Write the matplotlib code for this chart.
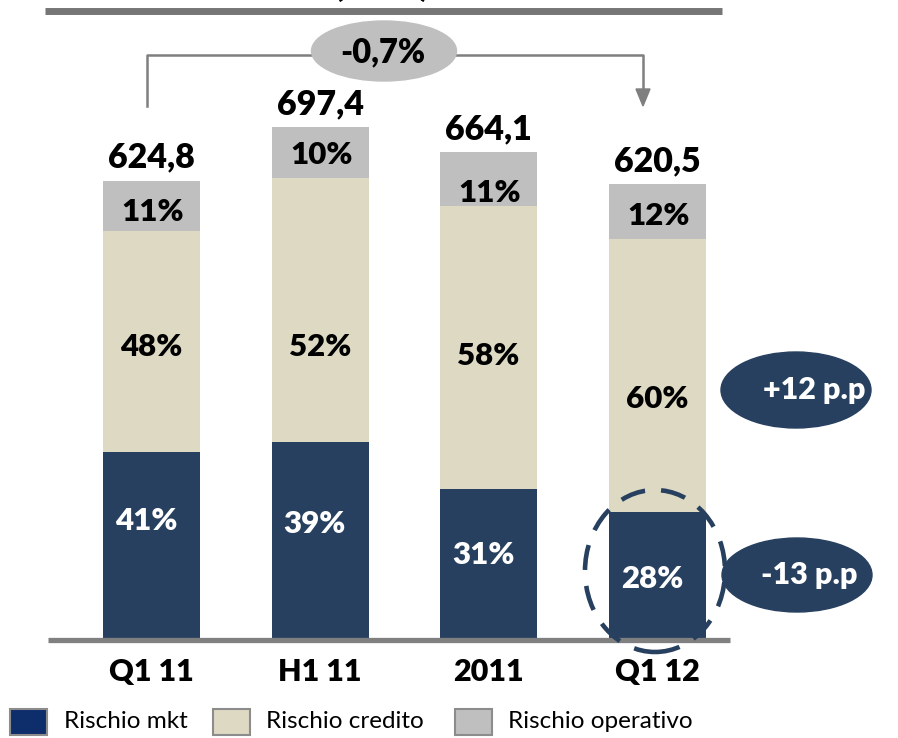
import matplotlib
matplotlib.use("Agg")
import matplotlib.pyplot as plt
from matplotlib.patches import Ellipse, Rectangle, Polygon
from matplotlib.lines import Line2D

# ---------------- data ----------------
categories = ["Q1 11", "H1 11", "2011", "Q1 12"]
totals = [624.8, 697.4, 664.1, 620.5]
total_labels = ["624,8", "697,4", "664,1", "620,5"]
pct_mkt = [41, 39, 31, 28]
pct_credito = [48, 52, 58, 60]
pct_operativo = [11, 10, 11, 12]
series_names = ["Rischio mkt", "Rischio credito", "Rischio operativo"]
change_label = "-0,7%"
pp_credito = "+12 p.p"
pp_mkt = "-13 p.p"

# ---------------- style ----------------
C_MKT = "#27405F"
C_CRED = "#DDD9C3"
C_OPER = "#BFBFBF"
C_LEG_MKT = "#0E2D6B"
C_LINE = "#7F7F7F"
FONT = "Lato"
BOLD = "heavy"

W, H = 898, 738
fig = plt.figure(figsize=(W / 100, H / 100), dpi=100)
ax = fig.add_axes([0, 0, 1, 1])

px_per_unit = 0.735
base_px = 640
spacing_px = 168.5
x0_px = 151.5
ax.set_ylim(-(H - base_px) / px_per_unit, base_px / px_per_unit)
ax.set_xlim(-x0_px / spacing_px, (W - x0_px) / spacing_px)
ax.axis("off")

def P(x, y):
    """figure pixel (from top-left) -> figure fraction"""
    return (x / W, 1 - y / H)

xs = list(range(len(categories)))
sums = [a + b + c for a, b, c in zip(pct_mkt, pct_credito, pct_operativo)]
mkt_vals = [t * p / s for t, p, s in zip(totals, pct_mkt, sums)]
cred_vals = [t * p / s for t, p, s in zip(totals, pct_credito, sums)]
oper_vals = [t * p / s for t, p, s in zip(totals, pct_operativo, sums)]

bw = 97 / spacing_px
ax.bar(xs, mkt_vals, bw, color=C_MKT, zorder=2)
ax.bar(xs, cred_vals, bw, bottom=mkt_vals, color=C_CRED, zorder=2)
bot3 = [m + c for m, c in zip(mkt_vals, cred_vals)]
ax.bar(xs, oper_vals, bw, bottom=bot3, color=C_OPER, zorder=2)

# label offsets (pixels, positive = up) mimicking the manual placement
off_mkt = [25, 17, 9, -3]
off_cred = [-5, -37, -9, -24]
off_oper = [-6, -2, -14, -5]

fs_pct = 22.5
for i in xs:
    ym = mkt_vals[i] / 2 + off_mkt[i] / px_per_unit
    ax.text(i - 0.03, ym, f"{pct_mkt[i]}%", ha="center", va="center",
            color="white", fontsize=fs_pct, fontweight=BOLD, family=FONT, zorder=4)
    yc = mkt_vals[i] + cred_vals[i] / 2 + off_cred[i] / px_per_unit
    ax.text(i, yc, f"{pct_credito[i]}%", ha="center", va="center",
            color="black", fontsize=fs_pct, fontweight=BOLD, family=FONT, zorder=4)
    yo = bot3[i] + oper_vals[i] / 2 + off_oper[i] / px_per_unit
    ax.text(i + 0.01, yo, f"{pct_operativo[i]}%", ha="center", va="center",
            color="black", fontsize=fs_pct, fontweight=BOLD, family=FONT, zorder=4)
    ax.text(i, totals[i] + 23 / px_per_unit, total_labels[i], ha="center", va="center",
            color="black", fontsize=24.5, fontweight=BOLD, family=FONT, zorder=4)
    ax.text(i, -32 / px_per_unit, categories[i], ha="center", va="center",
            color="black", fontsize=22, fontweight=BOLD, family=FONT, zorder=4)

# baseline
fig.add_artist(Line2D([48 / W, 730 / W], [P(0, 640)[1]] * 2, color="#808080",
                      lw=3.8, solid_capstyle="butt", zorder=3))
# top rule
fig.add_artist(Line2D([45 / W, 722 / W], [P(0, 11)[1]] * 2, color="#767676",
                      lw=5, solid_capstyle="butt"))
fig.text(382 / W, P(0, -3)[1], "(€ mln)", ha="center", va="baseline",
         fontsize=22, fontweight=BOLD, family=FONT)

# bracket with arrow
bx = [147, 147, 643, 643]
by = [106, 55, 55, 92]
fig.add_artist(Line2D([x / W for x in bx], [1 - y / H for y in by],
                      color=C_LINE, lw=1.8))
fig.add_artist(Polygon([P(636, 89), P(650, 89), P(643, 106)], closed=True,
                       transform=fig.transFigure, color=C_LINE))
fig.add_artist(Ellipse(P(384, 51), 145 / W, 60 / H, transform=fig.transFigure,
                       color="#BFBFBF", zorder=3))
fig.text(*P(383, 52), change_label, ha="center", va="center", fontsize=23.5,
         fontweight=BOLD, family=FONT, zorder=4)

# p.p ellipses
fig.add_artist(Ellipse(P(796, 390), 150 / W, 76 / H, transform=fig.transFigure,
                       color=C_MKT, zorder=3))
fig.text(*P(814, 390), pp_credito, ha="center", va="center", fontsize=22,
         fontweight=BOLD, family=FONT, color="white", zorder=4)
fig.add_artist(Ellipse(P(797, 575), 150 / W, 74 / H, transform=fig.transFigure,
                       color=C_MKT, zorder=3))
fig.text(*P(809, 575), pp_mkt, ha="center", va="center", fontsize=22,
         fontweight=BOLD, family=FONT, color="white", zorder=4)

# dashed highlight ellipse
fig.add_artist(Ellipse(P(655, 571), 140 / W, 162 / H, transform=fig.transFigure,
                       fill=False, edgecolor=C_MKT, lw=3.3, linestyle=(0, (5.5, 3.5)),
                       zorder=5))

# legend
leg_items = [(10, 64, C_LEG_MKT), (213, 266, C_CRED), (455, 508, C_OPER)]
for (sx, tx, col), name in zip(leg_items, series_names):
    fig.add_artist(Rectangle(P(sx, 735), 37 / W, 26 / H, transform=fig.transFigure,
                             facecolor=col, edgecolor="#8C8C8C", lw=1.5))
    fig.text(tx / W, P(0, 722)[1], name, ha="left", va="center", fontsize=17.5,
             family=FONT)

fig.savefig("out.png", dpi=100)
